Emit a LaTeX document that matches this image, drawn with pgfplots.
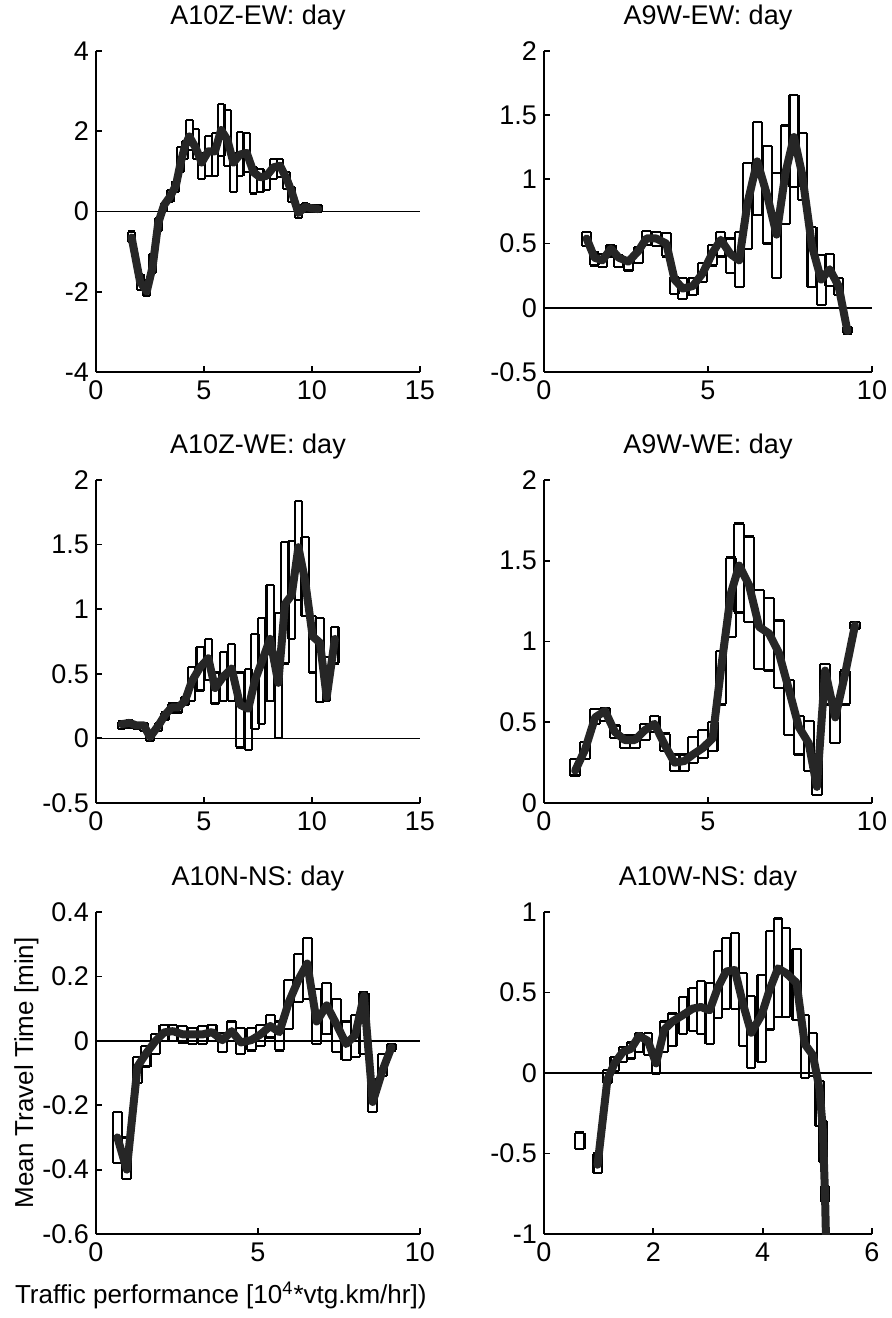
\documentclass[border=0pt]{standalone}
\usepackage{fontspec}
\setmainfont{Liberation Sans}
\usepackage{pgfplots}
\usepackage{pgfplotstable}
\pgfplotsset{compat=1.18}

\pgfplotstableread{
x y lo hi
1.65 -0.65 -0.77 -0.50
2.04 -1.75 -1.95 -1.55
2.35 -1.99 -2.10 -1.71
2.62 -1.38 -1.54 -1.06
2.88 -0.29 -0.49 -0.16
3.15 0.16 0.02 0.20
3.43 0.37 0.24 0.53
3.70 0.65 0.49 0.77
3.92 1.22 0.98 1.61
4.12 1.63 1.30 1.75
4.32 1.87 1.54 2.29
4.63 1.57 1.30 2.05
4.89 1.22 0.81 1.46
5.20 1.50 0.89 1.88
5.51 1.50 0.89 1.95
5.79 2.03 1.38 2.67
6.08 1.79 1.14 2.52
6.36 1.22 0.49 1.46
6.67 1.42 0.89 1.99
6.98 1.46 0.98 1.95
7.29 0.98 0.45 1.10
7.60 0.85 0.49 1.06
7.90 0.89 0.53 0.98
8.21 1.10 0.81 1.30
8.52 1.14 0.85 1.30
8.83 0.81 0.57 0.98
9.06 0.49 0.24 0.61
9.37 -0.04 -0.16 0.16
9.68 0.12 0.00 0.20
9.98 0.08 0.00 0.16
10.29 0.06 -0.02 0.15
}\tA

\pgfplotstableread{
x y lo hi
1.30 0.54 0.48 0.59
1.54 0.39 0.33 0.43
1.78 0.37 0.32 0.42
2.04 0.46 0.40 0.49
2.28 0.39 0.32 0.41
2.57 0.36 0.29 0.39
2.87 0.44 0.35 0.47
3.12 0.54 0.49 0.60
3.42 0.54 0.48 0.59
3.73 0.50 0.40 0.58
3.98 0.22 0.11 0.24
4.23 0.15 0.07 0.23
4.54 0.17 0.10 0.23
4.84 0.27 0.20 0.35
5.14 0.43 0.33 0.49
5.39 0.53 0.40 0.59
5.68 0.42 0.27 0.54
5.95 0.37 0.16 0.59
6.20 0.81 0.46 1.13
6.50 1.14 0.72 1.45
6.81 0.87 0.50 1.26
7.09 0.57 0.23 1.05
7.36 1.05 0.65 1.42
7.62 1.33 0.94 1.66
7.87 1.04 0.84 1.36
8.17 0.48 0.16 0.63
8.45 0.22 0.02 0.41
8.71 0.30 0.17 0.42
8.98 0.17 0.10 0.23
9.25 -0.18 -0.20 -0.15
}\tB

\pgfplotstableread{
x y lo hi
1.19 0.11 0.07 0.13
1.55 0.12 0.08 0.14
1.88 0.10 0.07 0.12
2.22 0.10 0.06 0.12
2.50 0.01 -0.02 0.03
2.89 0.10 0.06 0.12
3.19 0.18 0.14 0.20
3.50 0.24 0.20 0.27
3.81 0.24 0.20 0.27
4.12 0.29 0.26 0.32
4.43 0.44 0.29 0.55
4.82 0.55 0.37 0.71
5.20 0.62 0.45 0.77
5.51 0.39 0.27 0.51
5.90 0.48 0.29 0.67
6.28 0.54 0.29 0.73
6.67 0.26 -0.07 0.51
7.05 0.23 -0.09 0.54
7.36 0.45 0.07 0.81
7.67 0.59 0.11 0.93
8.06 0.77 0.29 1.19
8.44 0.43 0.00 0.97
8.75 1.04 0.58 1.52
9.06 1.11 0.77 1.53
9.37 1.48 1.07 1.84
9.68 1.22 0.95 1.56
10.03 0.79 0.51 0.95
10.37 0.74 0.28 0.93
10.68 0.32 0.29 0.63
11.06 0.77 0.58 0.86
}\tC

\pgfplotstableread{
x y lo hi
0.95 0.20 0.17 0.27
1.25 0.33 0.27 0.38
1.56 0.53 0.49 0.58
1.86 0.57 0.51 0.59
2.16 0.44 0.40 0.48
2.46 0.39 0.34 0.42
2.77 0.39 0.34 0.42
3.07 0.45 0.39 0.49
3.37 0.49 0.44 0.54
3.68 0.36 0.32 0.43
3.98 0.25 0.20 0.30
4.28 0.26 0.20 0.30
4.54 0.30 0.25 0.41
4.84 0.34 0.28 0.45
5.14 0.40 0.32 0.50
5.39 0.82 0.61 0.94
5.70 1.30 1.03 1.52
5.95 1.47 1.18 1.73
6.25 1.35 1.12 1.65
6.56 1.09 0.83 1.32
6.86 1.05 0.82 1.27
7.16 0.93 0.71 1.13
7.47 0.70 0.42 0.76
7.77 0.47 0.30 0.54
8.07 0.37 0.20 0.51
8.32 0.10 0.05 0.30
8.57 0.82 0.61 0.86
8.88 0.53 0.37 0.63
9.18 0.80 0.61 0.82
9.48 1.10 1.08 1.12
}\tD

\pgfplotstableread{
x y lo hi
0.66 -0.30 -0.38 -0.22
0.95 -0.40 -0.43 -0.30
1.28 -0.08 -0.13 -0.05
1.54 -0.04 -0.08 -0.015
1.84 0.00 -0.04 0.02
2.10 0.026 0.00 0.05
2.37 0.03 0.00 0.05
2.68 0.02 -0.005 0.045
2.99 0.02 -0.01 0.04
3.29 0.02 -0.01 0.045
3.58 0.027 0.00 0.05
3.90 0.002 -0.035 0.025
4.19 0.03 0.00 0.06
4.47 -0.005 -0.04 0.04
4.79 0.002 -0.03 0.04
5.08 0.02 -0.015 0.05
5.38 0.046 0.01 0.08
5.66 0.027 -0.03 0.06
5.95 0.12 0.036 0.19
6.25 0.19 0.12 0.27
6.52 0.24 0.13 0.32
6.81 0.06 -0.01 0.16
7.12 0.11 0.02 0.18
7.43 0.05 -0.035 0.13
7.72 -0.01 -0.06 0.06
8.00 0.018 -0.05 0.08
8.27 0.14 -0.04 0.15
8.54 -0.19 -0.22 -0.12
8.85 -0.09 -0.11 -0.04
9.12 -0.02 -0.03 -0.01
}\tE

\pgfplotstableread{
x y lo hi
0.98 -0.57 -0.62 -0.50
1.16 -0.04 -0.06 0.02
1.29 0.06 0.01 0.10
1.44 0.13 0.07 0.16
1.59 0.15 0.09 0.19
1.74 0.23 0.13 0.25
1.90 0.20 0.11 0.25
2.05 0.06 -0.005 0.10
2.20 0.27 0.13 0.32
2.35 0.32 0.17 0.37
2.54 0.36 0.24 0.47
2.72 0.40 0.26 0.53
2.87 0.41 0.24 0.57
3.03 0.39 0.18 0.56
3.18 0.53 0.34 0.76
3.33 0.63 0.40 0.84
3.49 0.64 0.40 0.87
3.64 0.43 0.17 0.62
3.79 0.25 0.03 0.48
3.98 0.36 0.07 0.61
4.13 0.52 0.27 0.88
4.28 0.65 0.35 0.96
4.43 0.62 0.35 0.90
4.62 0.56 0.33 0.77
4.77 0.18 -0.03 0.36
4.92 0.11 -0.02 0.25
5.04 -0.10 -0.33 -0.05
5.10 -0.35 -0.55 -0.30
5.14 -0.75 -0.80 -0.70
5.16 -1.05 -1.05 -1.05
}\tF

\pgfplotstableread{
x y lo hi
0.65 -0.42 -0.47 -0.37
}\tFextra

\newcommand{\drawboxes}[2]{%
\addplot[draw=none, error bars/.cd, x dir=both, x fixed=#2, error mark=none,
  error bar style={draw=black, line width=1.1pt}] table[x=x, y=hi]{#1};
\addplot[draw=none, error bars/.cd, x dir=both, x fixed=#2, error mark=none,
  error bar style={draw=black, line width=1.1pt}] table[x=x, y=lo]{#1};
\addplot[draw=none, error bars/.cd, y dir=plus, y explicit, error mark=none,
  error bar style={draw=black, line width=1.1pt}]
  table[x expr=\thisrow{x}-#2, y=lo, y error expr=\thisrow{hi}-\thisrow{lo}]{#1};
\addplot[draw=none, error bars/.cd, y dir=plus, y explicit, error mark=none,
  error bar style={draw=black, line width=1.1pt}]
  table[x expr=\thisrow{x}+#2, y=lo, y error expr=\thisrow{hi}-\thisrow{lo}]{#1};
}

\pgfplotsset{
  panel/.style={
    scale only axis,
    anchor=south west,
    axis lines=left,
    axis line style={-, line width=0.9pt, black},
    tick align=inside,
    major tick length=3pt,
    tick style={black, line width=0.9pt},
    /pgf/number format/assume math mode=true,
    tick label style={font=\fontsize{13.5}{16}\selectfont},
    xticklabel style={yshift=-1pt},
    yticklabel style={/pgf/number format/fixed},
    title style={font=\fontsize{13.5}{16}\selectfont, yshift=1pt},
    label style={font=\fontsize{13}{16}\selectfont},
    clip=true,
  },
  meanline/.style={color=black!85, line width=4pt, line join=round, line cap=round},
  zeroline/.style={black, line width=0.8pt},
}

\begin{document}
\begin{tikzpicture}
\useasboundingbox (0,0) rectangle (445.5pt,659pt);

% Row 1 left
\begin{axis}[panel, at={(48pt,473pt)}, width=162pt, height=160.5pt,
  xmin=0, xmax=15, ymin=-4, ymax=4, xtick={0,5,10,15}, ytick={-4,-2,0,2,4},
  title={A10Z-EW: day}]
\addplot[zeroline] coordinates {(0,0) (15,0)};
\drawboxes{\tA}{0.155}
\addplot[meanline] table[x=x, y=y]{\tA};
\end{axis}

% Row 1 right
\begin{axis}[panel, at={(272pt,473pt)}, width=164pt, height=160.5pt,
  xmin=0, xmax=10, ymin=-0.5, ymax=2, xtick={0,5,10}, ytick={-0.5,0,0.5,1,1.5,2},
  title={A9W-EW: day}]
\addplot[zeroline] coordinates {(0,0) (10,0)};
\drawboxes{\tB}{0.137}
\addplot[meanline] table[x=x, y=y]{\tB};
\end{axis}

% Row 2 left
\begin{axis}[panel, at={(48pt,257.5pt)}, width=162pt, height=161.5pt,
  xmin=0, xmax=15, ymin=-0.5, ymax=2, xtick={0,5,10,15}, ytick={-0.5,0,0.5,1,1.5,2},
  title={A10Z-WE: day}]
\addplot[zeroline] coordinates {(0,0) (15,0)};
\drawboxes{\tC}{0.17}
\addplot[meanline] table[x=x, y=y]{\tC};
\end{axis}

% Row 2 right
\begin{axis}[panel, at={(272pt,257.5pt)}, width=164pt, height=161.5pt,
  xmin=0, xmax=10, ymin=0, ymax=2, xtick={0,5,10}, ytick={0,0.5,1,1.5,2},
  title={A9W-WE: day}]
\drawboxes{\tD}{0.15}
\addplot[meanline] table[x=x, y=y]{\tD};
\end{axis}

% Row 3 left
\begin{axis}[panel, at={(48pt,42pt)}, width=162pt, height=161pt,
  xmin=0, xmax=10, ymin=-0.6, ymax=0.4, xtick={0,5,10}, ytick={-0.6,-0.4,-0.2,0,0.2,0.4},
  title={A10N-NS: day},
  ylabel={Mean Travel Time [min]},
  ylabel style={at={(axis description cs:-0.215,0.5)}, anchor=center},
  xlabel={Traffic performance [10\textsuperscript{4}*vtg.km/hr])},
  xlabel style={at={(axis description cs:0.385,-0.19)}, anchor=center}]
\addplot[zeroline] coordinates {(0,0) (10,0)};
\drawboxes{\tE}{0.14}
\addplot[meanline] table[x=x, y=y]{\tE};
\end{axis}

% Row 3 right
\begin{axis}[panel, at={(272pt,42pt)}, width=164pt, height=161pt,
  xmin=0, xmax=6, ymin=-1, ymax=1, xtick={0,2,4,6}, ytick={-1,-0.5,0,0.5,1},
  title={A10W-NS: day}]
\addplot[zeroline] coordinates {(0,0) (6,0)};
\drawboxes{\tF}{0.075}
\drawboxes{\tFextra}{0.09}
\addplot[meanline] table[x=x, y=y]{\tF};
\end{axis}
\end{tikzpicture}
\end{document}
